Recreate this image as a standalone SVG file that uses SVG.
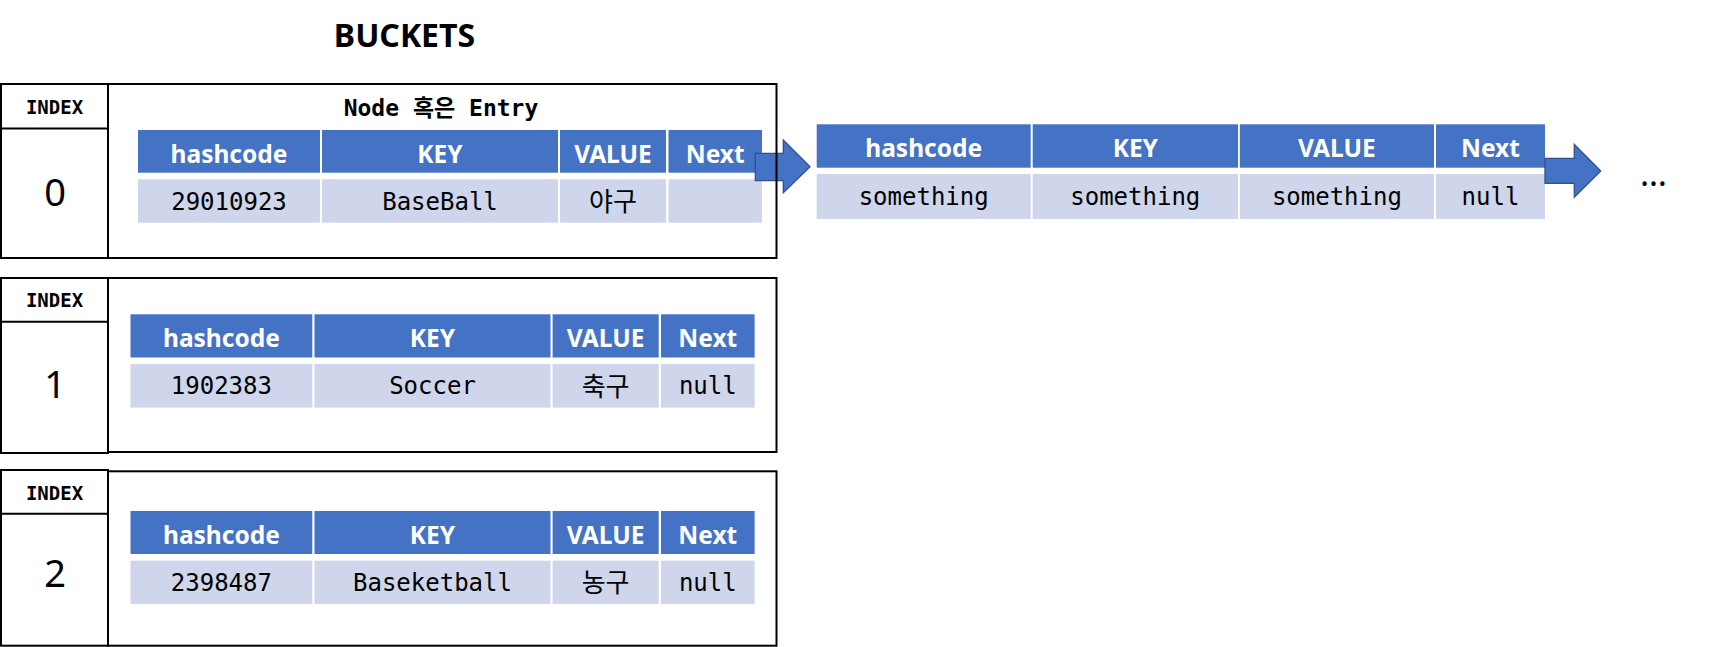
<svg xmlns="http://www.w3.org/2000/svg" width="1722" height="647" viewBox="0 0 1722 647">
<style>
.bg{fill:#ffffff}
.h{fill:#4472C4}
.d{fill:#CFD5EA}
.ht{font-family:"Noto Sans",sans-serif;font-weight:bold;font-size:24.5px;fill:#ffffff;text-anchor:middle}
.dt{font-family:"DejaVu Sans Mono",monospace;font-size:24px;fill:#000000;text-anchor:middle}
.kt{font-family:"Noto Sans CJK KR",sans-serif;font-size:26px;fill:#000000;text-anchor:middle}
.it{font-family:"DejaVu Sans Mono",monospace;font-weight:bold;font-size:19px;fill:#000000;text-anchor:middle}
.nt{font-family:"Noto Sans",sans-serif;font-size:38px;fill:#000000;text-anchor:middle}
.tt{font-family:"DejaVu Sans Mono","Noto Sans CJK KR",monospace;font-weight:bold;font-size:23px;fill:#000000;text-anchor:middle}
.frame{fill:none;stroke:#000000;stroke-width:2}
.arrow{fill:#4472C4;stroke:#2F528F;stroke-width:1.3;stroke-linejoin:miter}
</style>
<rect class="bg" x="0" y="0" width="1722" height="647"/>
<text x="404.5" y="46.5" style="font-family:'Noto Sans',sans-serif;font-weight:bold;font-size:32px;fill:#000;text-anchor:middle">BUCKETS</text>

<g id="entry-0">
<rect class="h" x="138" y="130" width="182" height="42.7"/>
<rect class="h" x="322" y="130" width="236" height="42.7"/>
<rect class="h" x="560" y="130" width="106" height="42.7"/>
<rect class="h" x="668.5" y="130" width="93.5" height="42.7"/>
<rect class="d" x="138" y="179.3" width="182" height="43.4"/>
<rect class="d" x="322" y="179.3" width="236" height="43.4"/>
<rect class="d" x="560" y="179.3" width="106" height="43.4"/>
<rect class="d" x="668.5" y="179.3" width="93.5" height="43.4"/>
<text class="ht" x="229" y="162.5">hashcode</text>
<text class="ht" x="440" y="162.5">KEY</text>
<text class="ht" x="613" y="162.5">VALUE</text>
<text class="ht" x="715.2" y="162.5">Next</text>
<text class="dt" x="229" y="209.8">29010923</text>
<text class="dt" x="440" y="209.8">BaseBall</text>
<text class="kt" x="613" y="210.5">야구</text>
</g>

<g id="entry-1">
<rect class="h" x="130.5" y="314.3" width="181.8" height="43.2"/>
<rect class="h" x="314.5" y="314.3" width="236" height="43.2"/>
<rect class="h" x="552.6" y="314.3" width="106.1" height="43.2"/>
<rect class="h" x="661" y="314.3" width="93.6" height="43.2"/>
<rect class="d" x="130.5" y="364" width="181.8" height="43.6"/>
<rect class="d" x="314.5" y="364" width="236" height="43.6"/>
<rect class="d" x="552.6" y="364" width="106.1" height="43.6"/>
<rect class="d" x="661" y="364" width="93.6" height="43.6"/>
<text class="ht" x="221.4" y="347">hashcode</text>
<text class="ht" x="432.5" y="347">KEY</text>
<text class="ht" x="605.6" y="347">VALUE</text>
<text class="ht" x="707.8" y="347">Next</text>
<text class="dt" x="221.4" y="394.4">1902383</text>
<text class="dt" x="432.5" y="394.4">Soccer</text>
<text class="kt" x="605.6" y="395.5">축구</text>
<text class="dt" x="707.8" y="394.4">null</text>
</g>

<g id="entry-2">
<rect class="h" x="130.5" y="511" width="181.8" height="43"/>
<rect class="h" x="314.5" y="511" width="236" height="43"/>
<rect class="h" x="552.6" y="511" width="106.1" height="43"/>
<rect class="h" x="661" y="511" width="93.6" height="43"/>
<rect class="d" x="130.5" y="560.7" width="181.8" height="43.3"/>
<rect class="d" x="314.5" y="560.7" width="236" height="43.3"/>
<rect class="d" x="552.6" y="560.7" width="106.1" height="43.3"/>
<rect class="d" x="661" y="560.7" width="93.6" height="43.3"/>
<text class="ht" x="221.4" y="543.5">hashcode</text>
<text class="ht" x="432.5" y="543.5">KEY</text>
<text class="ht" x="605.6" y="543.5">VALUE</text>
<text class="ht" x="707.8" y="543.5">Next</text>
<text class="dt" x="221.4" y="591">2398487</text>
<text class="dt" x="432.5" y="591">Baseketball</text>
<text class="kt" x="605.6" y="592">농구</text>
<text class="dt" x="707.8" y="591">null</text>
</g>

<g id="entry-next">
<rect class="h" x="816.7" y="124.3" width="214" height="43.4"/>
<rect class="h" x="1032.7" y="124.3" width="205.3" height="43.4"/>
<rect class="h" x="1239.8" y="124.3" width="194.2" height="43.4"/>
<rect class="h" x="1436" y="124.3" width="109" height="43.4"/>
<rect class="d" x="816.7" y="174" width="214" height="45"/>
<rect class="d" x="1032.7" y="174" width="205.3" height="45"/>
<rect class="d" x="1239.8" y="174" width="194.2" height="45"/>
<rect class="d" x="1436" y="174" width="109" height="45"/>
<text class="ht" x="923.7" y="157.3">hashcode</text>
<text class="ht" x="1135.3" y="157.3">KEY</text>
<text class="ht" x="1336.9" y="157.3">VALUE</text>
<text class="ht" x="1490.5" y="157.3">Next</text>
<text class="dt" x="923.7" y="205">something</text>
<text class="dt" x="1135.3" y="205">something</text>
<text class="dt" x="1336.9" y="205">something</text>
<text class="dt" x="1490.5" y="205">null</text>
</g>

<g id="connectors">
<polygon class="arrow" points="755.3,153.3 783.3,153.3 783.3,140 810,166.7 783.3,192.7 783.3,180.7 755.3,180.7"/>
<polygon class="arrow" points="1545,158.3 1574.3,158.3 1574.3,144.3 1600.7,171 1574.3,197.3 1574.3,183.3 1545,183.3"/>
</g>

<g id="ellipsis">
<text x="1653.5" y="185.5" style="font-family:'Noto Sans',sans-serif;font-size:34px;fill:#000;text-anchor:middle">…</text>
</g>

<g id="bucket-0">
<rect class="frame" x="108" y="84" width="668.5" height="174"/>
<rect class="frame" x="1" y="84" width="107" height="174"/>
<line class="frame" x1="1" y1="128.5" x2="108" y2="128.5"/>
<text class="it" x="54.5" y="114">INDEX</text>
<text class="nt" x="55" y="206">0</text>
<text class="tt" x="441" y="116">Node 혹은 Entry</text>
</g>

<g id="bucket-1">
<rect class="frame" x="108" y="278" width="668.5" height="174"/>
<rect class="frame" x="1" y="278" width="107" height="175"/>
<line class="frame" x1="1" y1="321.7" x2="108" y2="321.7"/>
<text class="it" x="54.5" y="307">INDEX</text>
<text class="nt" x="55" y="398.3">1</text>
</g>

<g id="bucket-2">
<rect class="frame" x="108" y="471.3" width="668.5" height="174.4"/>
<rect class="frame" x="1" y="470" width="107" height="175.7"/>
<line class="frame" x1="1" y1="513.7" x2="108" y2="513.7"/>
<text class="it" x="54.5" y="500">INDEX</text>
<text class="nt" x="55" y="586.7">2</text>
</g>
</svg>
